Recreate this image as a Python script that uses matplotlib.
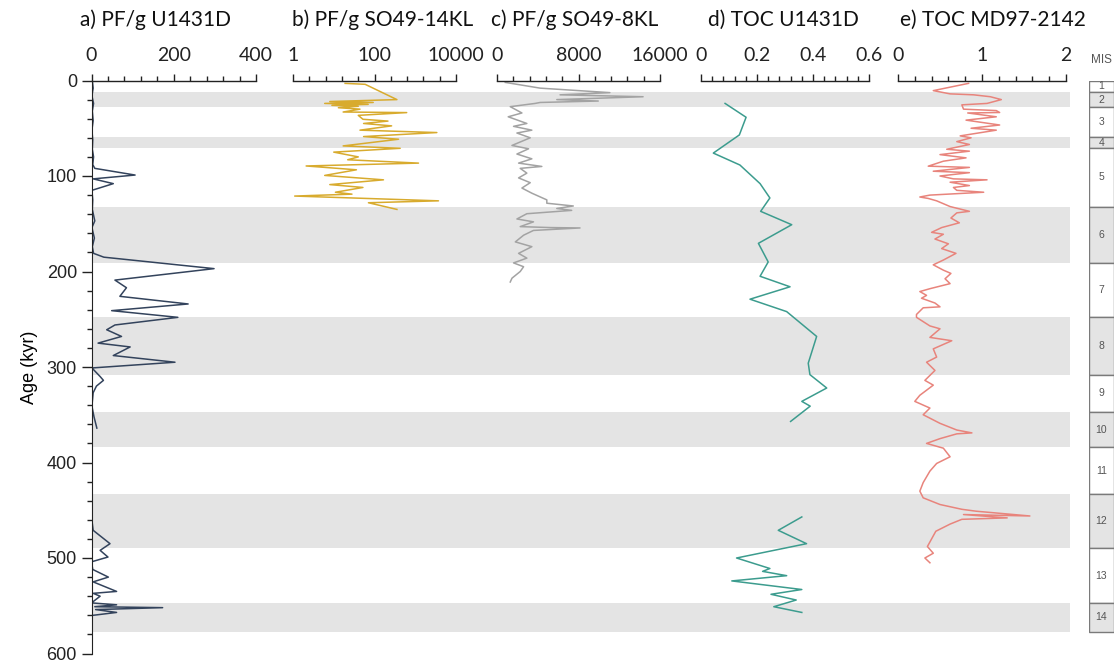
import numpy as np
import matplotlib.pyplot as plt
from matplotlib.ticker import FixedLocator, NullFormatter

# --- core data (age in kyr) ---
# a) planktonic forams per gram, U1431D
a_age = [0, 8, 16, 24, 32, 42, 52, 62, 72, 80, 88, 92, 99, 103, 108, 115, 125, 135,
         147, 154, 165, 174, 181, 185, 197, 209, 217, 226, 234, 241, 248, 256, 261,
         268, 275, 279, 288, 295, 301, 310, 314, 320, 327, 341, 352, 364,
         np.nan,
         457, 471, 485, 492, 499, 504, 512, 520, 525, 535, 537, 540, 547, 549, 551,
         552, 554, 557, 560]
a_val = [2, 4, 1, 5, 2, 4, 1, 3, 2, 5, 3, 8, 106, 4, 53, 1, 3, 2,
         8, 1, 7, 2, 5, 30, 298, 57, 85, 69, 235, 49, 210, 57, 37,
         73, 16, 94, 53, 203, 1, 21, 29, 12, 4, 1, 6, 13,
         np.nan,
         0, 4, 45, 21, 40, 0, 3, 41, 4, 61, 4, 21, 0, 61, 8,
         173, 10, 61, 4]

# b) PF/g SO49-14KL (log axis)
b_age = [3, 4, 20, 22, 23, 24, 25, 26, 27, 28.5, 30, 33, 33.6, 36.5, 40.6, 42.5, 45,
         47.5, 52, 54.5, 58.7, 61.5, 68.5, 71, 75, 80, 83, 86.5, 89.5, 93.5, 99.4,
         104, 109, 112, 117, 119, 121, 126, 128, 135]
b_val = [19, 59, 355, 8, 93, 6, 70, 9, 40, 13, 44, 17, 617, 40, 52, 214, 54,
         263, 44, 3388, 54, 389, 17, 427, 10, 40, 22, 1202, 2.1, 36, 6,
         166, 8, 52, 11, 28, 1.1, 3715, 71, 355]

# c) PF/g SO49-8KL
c_age = [2, 8, 12.7, 15, 17, 20, 21.5, 23, 24, 27.4, 34, 38, 45, 48, 52, 55, 60, 68,
         71.5, 77, 82, 86.5, 90, 92, 97, 102, 107, 112.6, 118, 125, 128.5, 131.4,
         134, 136, 139.5, 145, 148, 153, 154, 154.4, 157, 162, 169, 174, 181, 186,
         191, 195, 200, 207, 211]
c_val = [812, 4236, 11080, 6190, 14340, 5870, 9940, 4235, 3746, 1300, 2445, 1100,
         2930, 1625, 3420, 1955, 3260, 1470, 3100, 1955, 3420, 2120, 4400, 2280,
         2930, 2120, 3260, 2445, 3420, 4890, 4890, 7490, 5870, 7330, 2930, 1955,
         3580, 2280, 5213, 8150, 3580, 2610, 1800, 3420, 2120, 2930, 1625, 2610,
         2280, 1470, 1300]

# d) TOC U1431D (wt%)
d_age = [24, 38.5, 57, 76, 88.5, 108, 123, 137, 151, 170.5, 190, 205, 216, 229, 242,
         268, 296, 308, 322, 336, 341, 357,
         np.nan,
         457, 471, 485, 500, 511, 514, 518.5, 524, 533, 538, 544, 551, 557]
d_val = [0.086, 0.161, 0.137, 0.044, 0.139, 0.211, 0.246, 0.213, 0.324, 0.205,
         0.240, 0.211, 0.318, 0.175, 0.306, 0.413, 0.383, 0.389, 0.449, 0.36,
         0.39, 0.32,
         np.nan,
         0.360, 0.276, 0.377, 0.127, 0.246, 0.22, 0.306, 0.110, 0.36, 0.25, 0.34,
         0.26, 0.36]

# e) TOC MD97-2142 (wt%)
e_age = [3, 10.6, 14, 15, 17, 20, 24, 25.5, 30, 31.5, 33.5, 34, 38, 41.5, 46.6, 50,
         52, 58, 60, 64, 67, 72, 74, 77.6, 81, 84.5, 89.7, 91, 95, 96.5, 100, 103,
         104, 106.5, 110, 112, 115, 117, 120, 122, 123.5, 126, 129, 132, 137,
         138.6, 144, 149, 154, 159, 161, 166, 171, 176, 181, 188, 193, 198.6, 202,
         207.6, 212.7, 218, 221, 225, 228, 233, 237, 238, 245, 248, 257, 260, 269,
         272.5, 281, 289.6, 295, 303.6, 314, 319, 329.6, 336, 343, 350, 359, 366,
         369, 370, 375, 380, 385, 394, 401, 409, 421, 430, 437, 444, 449, 451,
         456, 454.5, 458, 459.5, 464.5, 472, 480, 488, 495, 500, 505]
e_val = [0.84, 0.42, 0.62, 0.90, 1.10, 1.23, 1.06, 0.76, 0.78, 1.17, 1.21, 0.83,
         1.17, 0.81, 1.21, 0.87, 1.17, 0.74, 0.87, 0.70, 0.85, 0.58, 0.85, 0.50,
         0.81, 0.54, 0.36, 0.85, 0.42, 0.85, 0.50, 0.66, 1.06, 0.62, 0.85, 0.66,
         0.70, 1.02, 0.38, 0.26, 0.36, 0.46, 0.54, 0.62, 0.85, 0.70, 0.63, 0.73,
         0.52, 0.40, 0.54, 0.44, 0.60, 0.52, 0.69, 0.54, 0.42, 0.54, 0.63, 0.56,
         0.62, 0.38, 0.26, 0.34, 0.28, 0.44, 0.50, 0.30, 0.22, 0.22, 0.38, 0.50,
         0.38, 0.64, 0.42, 0.46, 0.34, 0.44, 0.32, 0.42, 0.26, 0.20, 0.38, 0.30,
         0.50, 0.70, 0.88, 0.70, 0.50, 0.34, 0.54, 0.62, 0.46, 0.38, 0.30, 0.26,
         0.30, 0.50, 0.76, 0.93, 1.57, 0.78, 1.30, 0.76, 0.62, 0.45, 0.40, 0.35,
         0.42, 0.32, 0.38]

# marine isotope stage boundaries (kyr) and labels
mis_bounds = [0, 12, 28, 59, 71, 132, 191, 248, 308, 347, 384, 433, 490, 547, 577]
mis_labels = [str(i) for i in range(1, 15)]

W, H = 1118, 664
TOP, BOT = 80.5, 653.5          # pixel rows of 0 and 600 kyr
GREY = '#e4e4e4'

plt.rcParams['font.family'] = ['Lato', 'DejaVu Sans']

fig = plt.figure(figsize=(W / 100, H / 100), dpi=100)


def add_panel(x0, x1):
    return fig.add_axes([x0 / W, 1 - BOT / H, (x1 - x0) / W, (BOT - TOP) / H])


# glacial bands behind every panel
bg = add_panel(91.5, 1070)
bg.set_ylim(600, 0)
bg.axis('off')
for i in range(1, len(mis_bounds) - 1, 2):
    bg.axhspan(mis_bounds[i], mis_bounds[i + 1], color=GREY, lw=0)

panels = [
    # x0, x1, ages, values, colour, xlim, majors, minors, labels, title
    (91.5, 256, a_age, a_val, '#33435c', (0, 400), [0, 200, 400],
     np.arange(0, 401, 40), ['0', '200', '400'], 'a) PF/g U1431D'),
    (293, 456, b_age, b_val, '#d8ab2e', (1, 10000), [1, 100, 10000],
     10 ** np.arange(0, 4.01, 0.4), ['1', '100', '10000'], 'b) PF/g SO49-14KL'),
    (497, 660, c_age, c_val, '#a3a3a3', (0, 16000), [0, 8000, 16000],
     np.arange(0, 16001, 1600), ['0', '8000', '16000'], 'c) PF/g SO49-8KL'),
    (701, 869, d_age, d_val, '#3c9c8e', (0, 0.6), [0, 0.2, 0.4, 0.6],
     np.arange(0, 0.601, 0.04), ['0', '0.2', '0.4', '0.6'], 'd) TOC U1431D'),
    (898, 1066, e_age, e_val, '#e8847c', (0, 2), [0, 1, 2],
     np.arange(0, 2.01, 0.2), ['0', '1', '2'], 'e) TOC MD97-2142'),
]
title_x = [80, 292, 491, 708, 900]

for k, (x0, x1, ages, vals, col, xlim, majors, minors, labs, title) in enumerate(panels):
    ax = add_panel(x0, x1)
    ax.set_facecolor('none')
    if k == 1:
        ax.set_xscale('log')
    ax.plot(vals, ages, color=col, lw=1.1)
    ax.set_xlim(*xlim)
    ax.set_ylim(600, 0)
    for side in ('bottom', 'right', 'left'):
        ax.spines[side].set_visible(False)
    ax.spines['top'].set_color('#222222')
    ax.spines['top'].set_linewidth(1.0)
    ax.xaxis.tick_top()
    ax.xaxis.set_major_locator(FixedLocator(majors))
    ax.xaxis.set_minor_locator(FixedLocator(minors))
    ax.xaxis.set_minor_formatter(NullFormatter())
    ax.set_xticklabels(labs)
    ax.tick_params(axis='x', which='major', direction='out', length=5, width=1,
                   pad=7, labelsize=14, colors='#222222')
    ax.tick_params(axis='x', which='minor', direction='out', length=3.5, width=1,
                   colors='#222222')
    if k == 0:
        ax.spines['left'].set_visible(True)
        ax.spines['left'].set_color('#222222')
        ax.yaxis.set_major_locator(FixedLocator(np.arange(0, 601, 100)))
        ax.yaxis.set_minor_locator(FixedLocator(np.arange(0, 601, 20)))
        ax.tick_params(axis='y', which='major', direction='out', length=7, width=1,
                       labelsize=13, colors='#222222')
        ax.tick_params(axis='y', which='minor', direction='out', length=3.5, width=1,
                       colors='#222222')
        for t in ax.get_yticklabels():
            t.set_family(['Liberation Sans'])
        ax.set_ylabel('Age (kyr)', family=['Liberation Sans'], fontsize=13,
                      labelpad=6)
    else:
        ax.set_yticks([])
    fig.text(title_x[k] / W, 1 - 20 / H, title, fontsize=15, ha='left',
             va='center', color='#111111')

# MIS column on the right
mis = fig.add_axes([1089 / W, 1 - BOT / H, 25 / W, (BOT - TOP) / H])
mis.set_ylim(600, 0)
mis.set_xlim(0, 1)
mis.axis('off')
for i, lab in enumerate(mis_labels):
    y0, y1 = mis_bounds[i], mis_bounds[i + 1]
    face = GREY if i % 2 == 1 else 'white'
    mis.add_patch(plt.Rectangle((0, y0), 1, y1 - y0, facecolor=face,
                                edgecolor='#7a7a7a', lw=1.0))
    mis.text(0.5, (y0 + y1) / 2, lab, ha='center', va='center', fontsize=7.5,
             color='#555555', family=['Liberation Sans'])
fig.text(1101 / W, 1 - 60 / H, 'MIS', ha='center', va='center', fontsize=8.5,
         color='#555555', family=['Liberation Sans'])

fig.savefig('out.png', dpi=100)
